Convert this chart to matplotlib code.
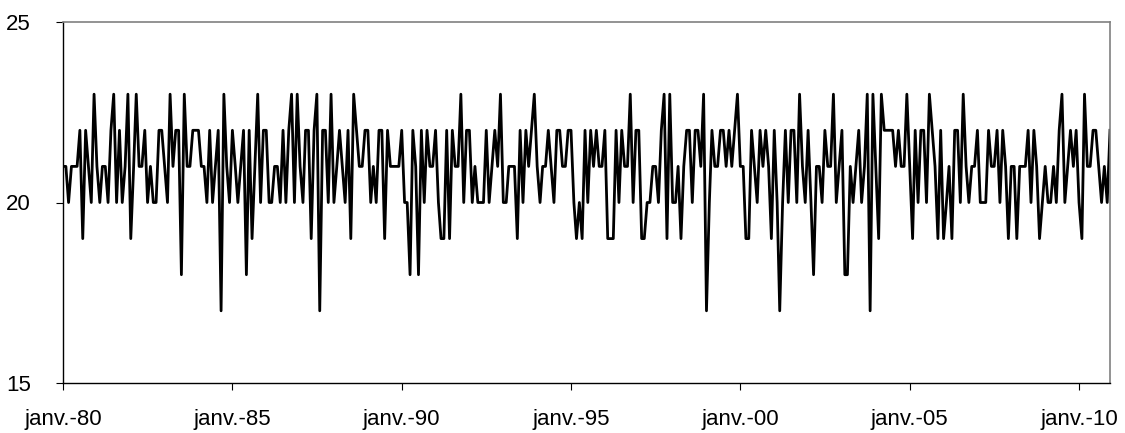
import numpy as np
import matplotlib
matplotlib.use("Agg")
import matplotlib.pyplot as plt
import pandas as pd

# valeurs mensuelles, janv. 1980 -> dec. 2010
vals_1980 = [21, 21, 20, 21, 21, 21, 22, 19, 22, 21, 20, 23, 21, 20, 21, 21, 20, 22, 23, 20,
             22, 20, 21, 23, 19, 21, 23, 21, 21, 22]
vals_1982 = [20, 21, 20, 20, 22, 22, 21, 20, 23, 21, 22, 22, 18, 23, 21, 21, 22, 22, 22, 21,
             21, 20, 22, 20, 21, 22, 17, 23, 21, 20, 22]
vals_1985 = [21, 20, 21, 22, 18, 22, 19, 21, 23, 20, 22, 22, 20, 20, 21, 21, 20, 22, 20, 22,
             23, 20, 23, 21, 20, 22, 22, 19, 22, 23, 17, 22]
vals_1987 = [22, 20, 23, 20, 21, 22, 21, 20, 22, 19, 23, 22, 21, 21, 22, 22, 20, 21, 20, 22,
             22, 19, 22, 21, 21, 21, 21, 22, 20, 20, 18]
vals_1990 = [22, 21, 18, 22, 20, 22, 21, 21, 22, 20, 19, 19, 22, 19, 22, 21, 21, 23, 20, 22,
             22, 20, 21, 20, 20, 20, 22, 20, 21, 22, 21]
vals_1992 = [23, 20, 20, 21, 21, 21, 19, 22, 20, 22, 21, 22, 23, 21, 20, 21, 21, 22, 21, 20,
             22, 22, 21, 21, 22, 22, 20, 19, 20, 19, 22, 20]
vals_1995 = [22, 21, 22, 21, 21, 22, 19, 19, 19, 22, 20, 22, 21, 21, 23, 20, 22, 22, 19, 19,
             20, 20, 21, 21, 20, 22, 23, 19, 23, 20]
vals_1998 = [20, 21, 19, 21, 22, 22, 20, 22, 22, 21, 23, 17, 20, 22, 21, 21, 22, 22, 21, 22,
             21, 22, 23, 21, 21, 19, 19, 22, 21, 20, 22, 21]
vals_2000 = [22, 21, 19, 22, 20, 17, 20, 22, 20, 22, 22, 20, 23, 21, 20, 22, 20, 18, 21, 21,
             20, 22, 21, 21, 23, 20, 21, 22, 18, 18, 21]
vals_2003 = [20, 21, 22, 20, 21, 23, 17, 23, 21, 19, 23, 22, 22, 22, 22, 21, 22, 21, 21, 23,
             21, 19, 22, 20, 22, 22, 20, 23, 22, 21, 19, 22]
vals_2006 = [19, 20, 21, 19, 22, 22, 20, 23, 21, 20, 21, 21, 22, 20, 20, 20, 22, 21, 21, 22,
             20, 22, 21, 19, 21, 21, 19, 21, 21, 21, 22]
vals_2008 = [20, 22, 21, 19, 20, 21, 20, 20, 21, 20, 22, 23, 20, 21, 22, 21, 22, 20, 19, 23,
             21, 21, 22, 22, 21, 20, 21, 20, 22]

values = (vals_1980 + vals_1982 + vals_1985 + vals_1987 + vals_1990 + vals_1992 +
          vals_1995 + vals_1998 + vals_2000 + vals_2003 + vals_2006 + vals_2008)
dates = pd.date_range("1980-01-01", periods=len(values), freq="MS")

tick_years = [1980, 1985, 1990, 1995, 2000, 2005, 2010]
tick_labels = ["janv.-80", "janv.-85", "janv.-90", "janv.-95", "janv.-00", "janv.-05", "janv.-10"]
y_ticks = [15, 20, 25]

plt.rcParams['font.family'] = ['Liberation Sans', 'DejaVu Sans']

fig = plt.figure(figsize=(11.25, 4.33), dpi=100)
ax = fig.add_axes([63 / 1125, 1 - 383 / 433, (1110 - 63) / 1125, (383 - 22) / 433])

ax.plot(dates, values, color="black", linewidth=2)

ax.set_xlim(dates[0], dates[-1])
ax.set_ylim(15, 25)
ax.set_yticks(y_ticks)
ax.set_xticks([pd.Timestamp(f"{y}-01-01") for y in tick_years])
ax.set_xticklabels(tick_labels)
ax.tick_params(labelsize=16, direction="out", length=5, color="black")
ax.tick_params(axis="x", pad=14)
ax.tick_params(axis="y", pad=18)

for s in ["top", "right"]:
    ax.spines[s].set_color("#808080")
    ax.spines[s].set_linewidth(1.2)
for s in ["left", "bottom"]:
    ax.spines[s].set_color("black")
    ax.spines[s].set_linewidth(1.0)

fig.savefig("out.png", dpi=100)
